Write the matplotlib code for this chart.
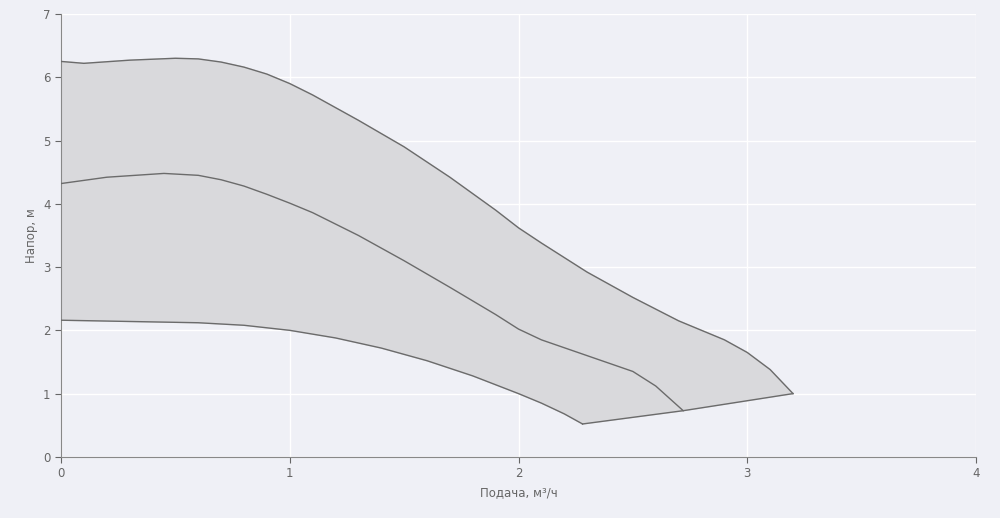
import matplotlib
matplotlib.use("Agg")
import matplotlib.pyplot as plt
import numpy as np

top_q = [0, 0.1, 0.3, 0.5, 0.6, 0.7, 0.8, 0.9, 1.0, 1.1, 1.3, 1.5, 1.7, 1.9, 2.0, 2.1, 2.3, 2.5, 2.7, 2.9, 3.0, 3.1, 3.2]
top_h = [6.25, 6.22, 6.27, 6.3, 6.29, 6.24, 6.16, 6.05, 5.9, 5.72, 5.32, 4.9, 4.42, 3.9, 3.62, 3.38, 2.92, 2.52, 2.15, 1.85, 1.65, 1.38, 1.0]
mid_q = [0, 0.2, 0.45, 0.6, 0.7, 0.8, 0.9, 1.0, 1.1, 1.3, 1.5, 1.7, 1.9, 2.0, 2.1, 2.3, 2.5, 2.6, 2.72]
mid_h = [4.32, 4.42, 4.48, 4.45, 4.38, 4.28, 4.15, 4.01, 3.86, 3.5, 3.1, 2.68, 2.25, 2.02, 1.85, 1.6, 1.35, 1.12, 0.73]
bot_q = [0, 0.3, 0.6, 0.8, 1.0, 1.2, 1.4, 1.6, 1.8, 2.0, 2.1, 2.2, 2.28]
bot_h = [2.16, 2.14, 2.12, 2.08, 2.0, 1.88, 1.72, 1.52, 1.28, 1.0, 0.85, 0.68, 0.52]
edge_q = [2.28, 2.72, 3.2]
edge_h = [0.52, 0.73, 1.0]

fig, ax = plt.subplots(figsize=(10, 5.18), dpi=100)
fig.subplots_adjust(left=0.061, right=0.976, top=0.973, bottom=0.118)
fig.patch.set_facecolor("#eff0f6")
ax.set_facecolor("#eff0f6")

px = top_q + edge_q[::-1][1:] + bot_q[::-1][1:]
py = top_h + edge_h[::-1][1:] + bot_h[::-1][1:]
ax.fill(px, py, color="#d9d9dc", zorder=2)
lc = "#6b6b6b"
for q, h in [(top_q, top_h), (mid_q, mid_h), (bot_q, bot_h), (edge_q, edge_h)]:
    ax.plot(q, h, color=lc, lw=1.0, zorder=3)

ax.set_xlim(0, 4)
ax.set_ylim(0, 7)
ax.set_xticks([0, 1, 2, 3, 4])
ax.set_yticks(range(8))
ax.grid(color="#ffffff", lw=1, zorder=0)
for s in ["top", "right"]:
    ax.spines[s].set_visible(False)
for s in ["left", "bottom"]:
    ax.spines[s].set_color("#888888")
ax.tick_params(colors="#666666", labelsize=8.5, length=4)
ax.set_xlabel("Подача, м³/ч", fontsize=8.5, color="#666666")
ax.set_ylabel("Напор, м", fontsize=8.5, color="#666666")
fig.savefig("out.png", dpi=100, facecolor=fig.get_facecolor())
